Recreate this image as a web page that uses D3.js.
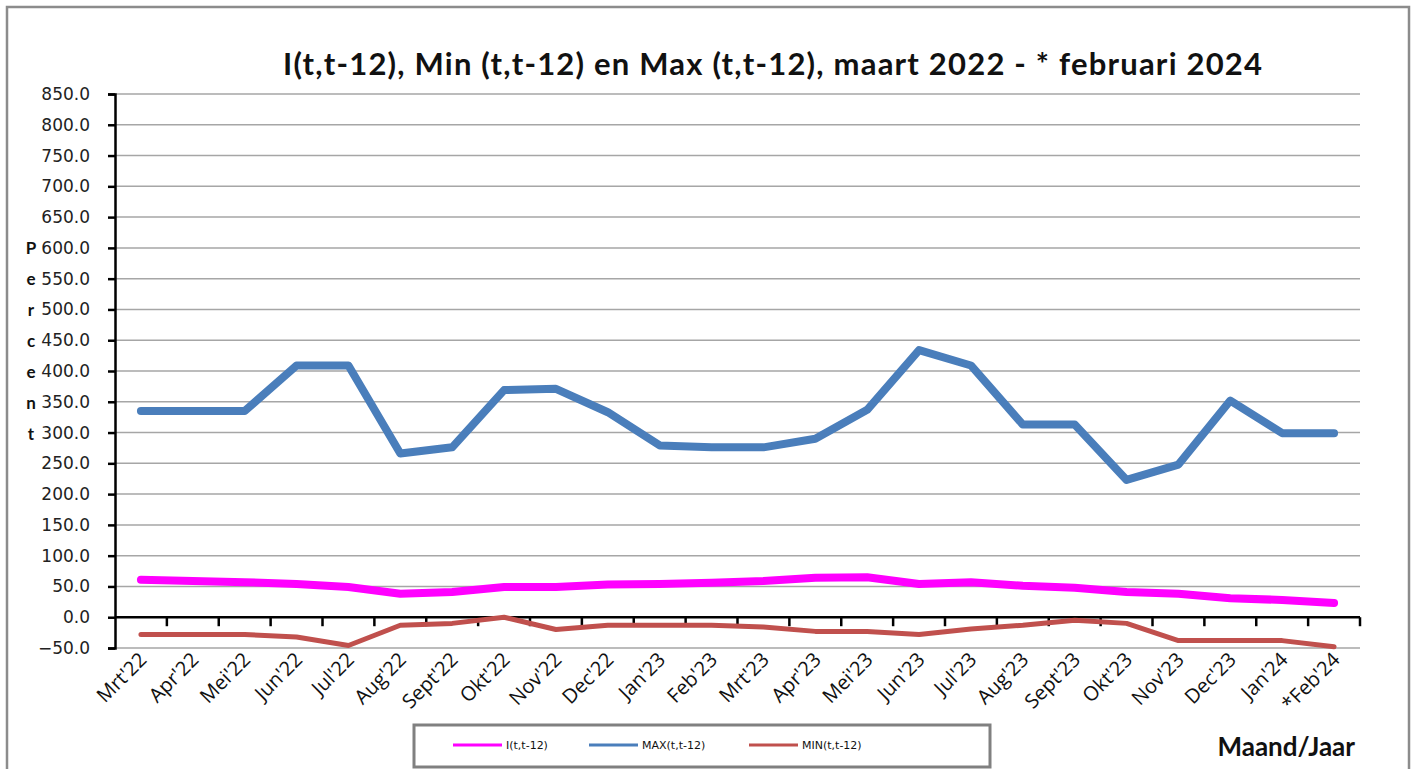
<!DOCTYPE html>
<html>
<head>
<meta charset="utf-8">
<script src="https://cdn.jsdelivr.net/npm/d3@7"></script>
<style>
  body { margin: 0; background: #fff; }
  svg { display: block; }
</style>
</head>
<body>
<script>
// ----- data -----
const months = ["Mrt'22", "Apr'22", "Mei'22", "Jun'22", "Jul'22", "Aug'22", "Sept'22", "Okt'22",
  "Nov'22", "Dec'22", "Jan'23", "Feb'23", "Mrt'23", "Apr'23", "Mei'23", "Jun'23", "Jul'23",
  "Aug'23", "Sept'23", "Okt'23", "Nov'23", "Dec'23", "Jan'24", "*Feb'24"];
const iValues = [61, 59, 57, 54, 49, 38, 41, 49, 49, 53, 54, 56, 59, 64, 65, 54, 57, 51, 48, 41, 38, 31, 28, 23];
const maxValues = [335, 335, 335, 409, 409, 266, 276, 369, 371, 333, 279, 276, 276, 290, 337, 434, 409, 313, 313, 223, 248, 352, 299, 299];
const minValues = [-28, -28, -28, -32, -46, -13, -10, 0, -20, -13, -13, -13, -16, -23, -23, -28, -19, -13, -5, -10, -38, -38, -38, -48];
const yTicks = d3.range(-50, 851, 50);

const series = [
  { name: 'I(t,t-12)', values: iValues, color: '#ff00ff', width: 8 },
  { name: 'MAX(t,t-12)', values: maxValues, color: '#4a7ebb', width: 8 },
  { name: 'MIN(t,t-12)', values: minValues, color: '#c0504d', width: 5 }
];

const W = 1415, H = 769;
const svg = d3.select('body').append('svg')
  .attr('width', W)
  .attr('height', H);

// outer frame
svg.append('rect')
  .attr('x', 7).attr('y', 7)
  .attr('width', 1402).attr('height', 780)
  .attr('fill', 'none')
  .attr('stroke', '#8c8c8c')
  .attr('stroke-width', 2.5);

// title
svg.append('text')
  .attr('x', 283).attr('y', 75)
  .attr('font-family', 'Lato, sans-serif')
  .attr('font-weight', 'bold')
  .attr('font-size', 31)
  .attr('textLength', 979)
  .attr('lengthAdjust', 'spacing')
  .attr('fill', '#111')
  .text('I(t,t-12), Min (t,t-12) en Max (t,t-12), maart 2022 - * februari 2024');

// ----- scales -----
const plotL = 115, plotR = 1360, plotT = 94, plotB = 648;
const x = d3.scaleBand().domain(months).range([plotL, plotR]);
const y = d3.scaleLinear().domain([-50, 850]).range([plotB, plotT]);

// grid
svg.append('g')
  .selectAll('line')
  .data(yTicks)
  .join('line')
  .attr('x1', plotL).attr('x2', plotR)
  .attr('y1', d => y(d)).attr('y2', d => y(d))
  .attr('stroke', '#a6a6a6')
  .attr('stroke-width', 1.5);

// y axis
const yAxis = svg.append('g')
  .attr('transform', `translate(${plotL},0)`)
  .call(d3.axisLeft(y).tickValues(yTicks).tickFormat(d3.format('.1f')).tickSize(7).tickPadding(18));
yAxis.select('.domain').attr('stroke', '#000').attr('stroke-width', 2.5);
yAxis.selectAll('.tick line').attr('stroke', '#000').attr('stroke-width', 2.5);
yAxis.selectAll('.tick text')
  .attr('font-family', '"DejaVu Sans", Tahoma, sans-serif')
  .attr('font-size', 17)
  .attr('fill', '#222');

// x axis at zero, ticks between categories
const xAxis = svg.append('g').attr('transform', `translate(0,${y(0)})`);
xAxis.append('line')
  .attr('x1', plotL).attr('x2', plotR)
  .attr('stroke', '#000').attr('stroke-width', 2.5);
xAxis.selectAll('.xt')
  .data(months)
  .join('line')
  .attr('class', 'xt')
  .attr('x1', d => x(d) + x.bandwidth())
  .attr('x2', d => x(d) + x.bandwidth())
  .attr('y1', 0).attr('y2', 9)
  .attr('stroke', '#000').attr('stroke-width', 2.5);

// x labels
svg.append('g')
  .selectAll('text')
  .data(months)
  .join('text')
  .attr('text-anchor', 'end')
  .attr('transform', d => `translate(${x(d) + x.bandwidth() / 2 + 7},${plotB + 13}) rotate(-45)`)
  .attr('font-family', '"Open Sans", sans-serif')
  .attr('font-size', 20)
  .attr('fill', '#111')
  .text(d => d);

// y label, stacked letters
svg.append('g')
  .selectAll('text')
  .data('Percent'.split(''))
  .join('text')
  .attr('x', 31)
  .attr('y', (d, i) => 254 + i * 31)
  .attr('text-anchor', 'middle')
  .attr('font-family', 'Lato, sans-serif')
  .attr('font-weight', 'bold')
  .attr('font-size', 17)
  .attr('fill', '#111')
  .text(d => d);

// lines
const line = d3.line()
  .x((d, i) => x(months[i]) + x.bandwidth() / 2)
  .y(d => y(d));

svg.append('g')
  .selectAll('path')
  .data([series[2], series[0], series[1]])
  .join('path')
  .attr('d', d => line(d.values))
  .attr('fill', 'none')
  .attr('stroke', d => d.color)
  .attr('stroke-width', d => d.width)
  .attr('stroke-linejoin', 'round')
  .attr('stroke-linecap', 'round');

// legend
svg.append('rect')
  .attr('x', 414).attr('y', 725)
  .attr('width', 576).attr('height', 42)
  .attr('fill', '#fff')
  .attr('stroke', '#808080')
  .attr('stroke-width', 3);

const legendX = [453, 589, 749];
const leg = svg.append('g')
  .selectAll('g')
  .data(series)
  .join('g')
  .attr('transform', (d, i) => `translate(${legendX[i]},745)`);
leg.append('line')
  .attr('x1', 0).attr('x2', 49)
  .attr('stroke', d => d.color)
  .attr('stroke-width', 3);
leg.append('text')
  .attr('x', 53)
  .attr('y', 4)
  .attr('font-family', '"DejaVu Sans", sans-serif')
  .attr('font-size', 11)
  .attr('fill', '#111')
  .text(d => d.name);

// axis title
svg.append('text')
  .attr('x', 1355).attr('y', 756)
  .attr('text-anchor', 'end')
  .attr('font-family', 'Lato, sans-serif')
  .attr('font-weight', 'bold')
  .attr('font-size', 26)
  .attr('fill', '#111')
  .text('Maand/Jaar');
</script>
</body>
</html>
